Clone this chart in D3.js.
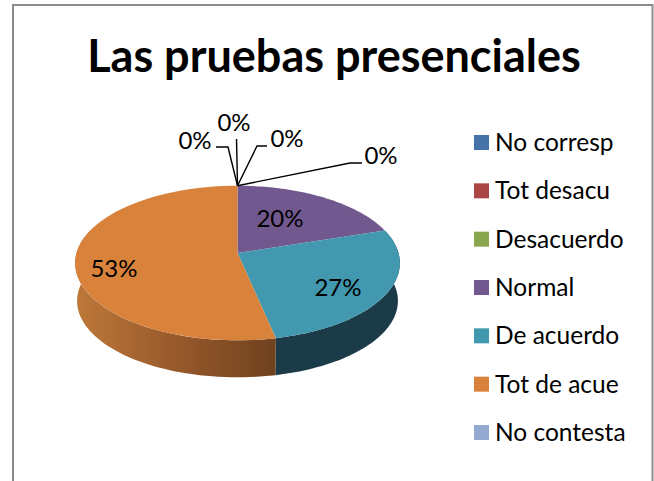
<!DOCTYPE html>
<html><head><meta charset="utf-8">
<script src="https://cdn.jsdelivr.net/npm/d3@7/dist/d3.min.js"></script>
<style>html,body{margin:0;padding:0;background:#fff}svg{display:block}text{font-family:Lato,"Open Sans",sans-serif;fill:#000}</style>
</head><body><svg id="c" width="654" height="481"></svg>
<script>
const title = "Las pruebas presenciales";
const categories = ["No corresp","Tot desacu","Desacuerdo","Normal","De acuerdo","Tot de acue","No contesta"];
const values = [0,0,0,3,4,8,0];
const colors = ["#4572a7","#aa4643","#89a54e","#71588f","#4198af","#d8823c","#93a9cf"];
const wallColors = [null,null,null,"#3f2f55","#1b3b48","url(#wallOrange)",null];
const percentLabels = ["0%","0%","0%","20%","27%","53%","0%"];

const svg = d3.select("#c");
const defs = svg.append("defs");
const g = defs.append("linearGradient").attr("id","wallOrange").attr("gradientUnits","userSpaceOnUse")
  .attr("x1",78).attr("x2",275).attr("y1",0).attr("y2",0);
g.append("stop").attr("offset","0").attr("stop-color","#bd7739");
g.append("stop").attr("offset","0.5").attr("stop-color","#97592b");
g.append("stop").attr("offset","1").attr("stop-color","#6f421e");

svg.append("path").attr("d","M13 481V5H652.5V481").attr("fill","none").attr("stroke","#8c8c8c").attr("stroke-width",2);

svg.append("text").attr("x",334).attr("y",72).attr("text-anchor","middle")
  .attr("font-size",45).attr("font-weight",700).text(title);

const k = 0.13, C = 161, B = 76, cx = 237.5, cy = 253;
function proj(a, dy = 0, s = 1) {
  const u = Math.sin(a), v = -Math.cos(a), w = 1 - k * v;
  return [cx + s * C * u / w, cy + dy + s * B * v / w];
}
const pie = d3.pie().sort(null).value(d => d)(values);
const line = d3.line();
const arcPts = (a0, a1, dy, s) => d3.range(0, 61).map(i => proj(a0 + (a1 - a0) * i / 60, dy, s));

const depth = 38, wallScale = 0.988;
pie.forEach((p, i) => {
  if (p.endAngle - p.startAngle <= 0) return;
  const a0 = Math.max(p.startAngle, Math.PI * 0.4), a1 = Math.min(p.endAngle, Math.PI * 1.6);
  if (a1 <= a0) return;
  const top = arcPts(a0, a1, 0, 1), bot = arcPts(a0, a1, depth, wallScale).reverse();
  svg.append("path").attr("d", line(top.concat(bot)) + "Z").attr("fill", wallColors[i]);
});
pie.forEach((p, i) => {
  if (p.endAngle - p.startAngle <= 0) return;
  svg.append("path").attr("d", line([[cx, cy]].concat(arcPts(p.startAngle, p.endAngle, 0, 1))) + "Z")
    .attr("fill", colors[i]);
});

const apex = proj(0);
const leaders = [
  {i:0, pts:[[216,147],[228,147]], x:195, y:141},
  {i:1, pts:[[236.5,139]], x:234, y:123},
  {i:2, pts:[[267,146],[257,146]], x:287, y:139},
  {i:6, pts:[[362,163],[350,163]], x:381, y:156}
];
leaders.forEach(l => {
  svg.append("path").attr("d", line(l.pts.concat([apex]))).attr("fill","none").attr("stroke","#000").attr("stroke-width",1.4);
  svg.append("text").attr("x",l.x).attr("y",l.y).attr("dy","0.35em").attr("text-anchor","middle").attr("font-size",24).text(percentLabels[l.i]);
});
[{i:3,x:280,y:219},{i:4,x:338,y:288},{i:5,x:114,y:269}].forEach(l => {
  svg.append("text").attr("x",l.x).attr("y",l.y).attr("dy","0.35em").attr("text-anchor","middle").attr("font-size",24).text(percentLabels[l.i]);
});

const ly = d3.scalePoint().domain(categories).range([142.5,432.5]);
categories.forEach((c, i) => {
  svg.append("rect").attr("x",474).attr("y",ly(c)-7.5).attr("width",15).attr("height",15).attr("fill",colors[i]);
  svg.append("text").attr("x",495).attr("y",ly(c)).attr("dy","0.35em").attr("font-size",24.5).text(c);
});
</script></body></html>
